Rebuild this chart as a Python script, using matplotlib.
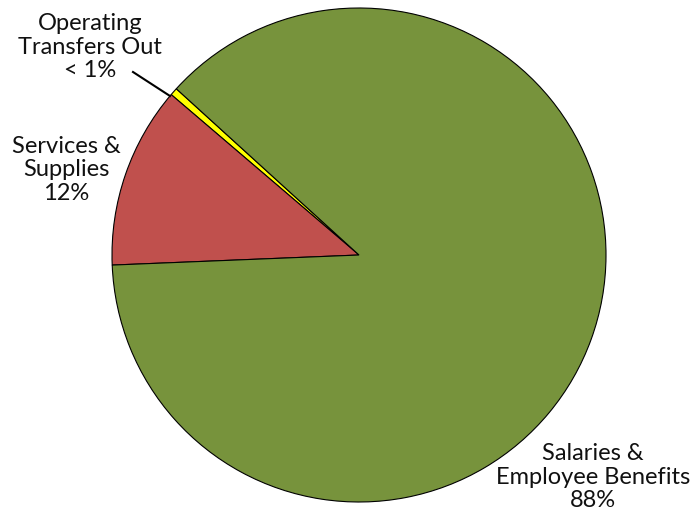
import matplotlib.pyplot as plt

# Expenditure shares (percent)
categories = ["Operating\nTransfers Out", "Services &\nSupplies", "Salaries &\nEmployee Benefits"]
shares = [0.5, 11.9, 87.6]
share_labels = ["< 1%", "12%", "88%"]
colors = ["#FFFF00", "#C0504D", "#77933C"]

W, H = 700, 517
fig = plt.figure(figsize=(W / 100, H / 100), dpi=100)
ax = fig.add_axes([0, 0, 1, 1])

cx, cy, r = 359, H - 255, 247
ax.pie(shares, colors=colors, startangle=137.7, counterclock=True,
       center=(cx, cy), radius=r, frame=True,
       wedgeprops=dict(edgecolor="black", linewidth=0.8))

ax.set_xlim(0, W)
ax.set_ylim(0, H)
ax.set_aspect("equal")
ax.axis("off")

font = dict(family=["Lato", "DejaVu Sans"], fontsize=17, color="#111111",
            ha="center", va="center", linespacing=1.12)

label_pos = [(90, 47), (66, 170), (593, 477)]
for cat, lab, (x, y) in zip(categories, share_labels, label_pos):
    ax.text(x, H - y, f"{cat}\n{lab}", **font)

# leader line for the thin slice
ax.plot([133, 170], [H - 72, H - 96], color="black", linewidth=1.5)

fig.savefig("out.png", dpi=100)
